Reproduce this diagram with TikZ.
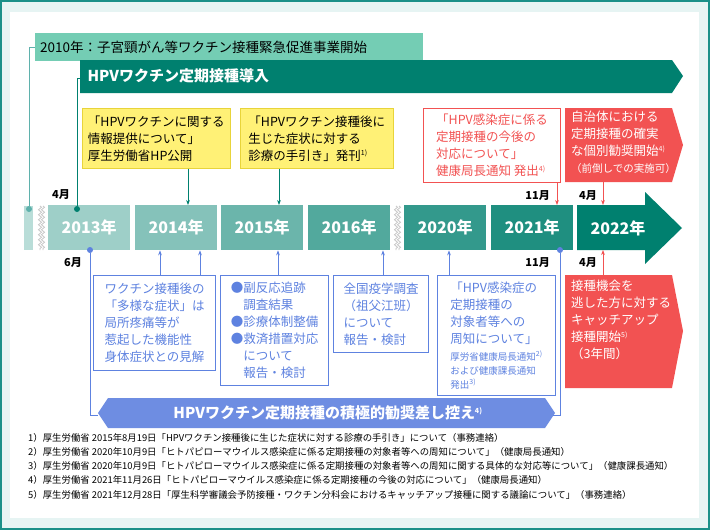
\documentclass[tikz,border=0pt]{standalone}
\usepackage{fontspec}
\setmainfont{Noto Sans CJK JP}
\newcommand{\boldcjk}{\bfseries}
\usepackage{xcolor}
\usetikzlibrary{positioning, arrows.meta, decorations.pathmorphing}
\definecolor{frameteal}{HTML}{1A9088}
\definecolor{bgmint}{HTML}{E6F4F3}
\definecolor{mint}{HTML}{74CDB4}
\definecolor{darkteal}{HTML}{00806F}
\definecolor{hpyellow}{HTML}{FFF176}
\definecolor{ylborder}{HTML}{E8D43A}
\definecolor{hpred}{HTML}{F25252}
\definecolor{hpblue}{HTML}{5E82E0}
\definecolor{bannerblue}{HTML}{6E8DE2}
\definecolor{stripgray}{HTML}{B9DDD8}
\newcommand{\fn}[1]{\textsuperscript{\scriptsize #1}}

\begin{document}
\begin{tikzpicture}[x=1pt, y=-1pt,
	ybox/.style={fill=hpyellow, draw=ylborder, line width=0.6pt, anchor=north west, align=left,
		inner sep=5pt, font=\fontsize{12.5}{17}\selectfont},
	bbox/.style={fill=white, draw=hpblue, line width=1pt, anchor=north west, align=left,
		inner sep=5pt, text=hpblue, font=\fontsize{12.5}{17}\selectfont},
	rbox/.style={fill=white, draw=hpred, line width=1pt, anchor=north west, align=left,
		inner sep=5pt, text=hpred, font=\fontsize{12.5}{17}\selectfont},
	rtext/.style={anchor=north west, align=left, text=white, inner sep=0pt,
		font=\fontsize{12.5}{17}\selectfont},
	yearbox/.style={anchor=north west, minimum width=82pt, minimum height=45pt, inner sep=0pt,
		text=white, font=\boldcjk\fontsize{16}{16}\selectfont},
	tarr/.style={draw=darkteal, line width=0.8pt, -{Stealth[length=5pt]}},
	barr/.style={draw=hpblue, line width=0.8pt, -{Stealth[length=5pt]}},
	rarr/.style={draw=hpred, line width=0.8pt, -{Stealth[length=5pt]}},
	month/.style={font=\boldcjk\fontsize{11}{11}\selectfont, inner sep=0pt},
	dot/.style={circle, inner sep=0pt, minimum size=6pt},
	wave/.style={draw=gray!45, line width=0.8pt, decorate, decoration={zigzag, amplitude=1.5pt, segment length=5pt}}]
\useasboundingbox (0,0) rectangle (710,530);
% frame
\draw[frameteal, fill=bgmint, line width=1.5pt] (1,1) rectangle (709,529);
\fill[white] (10,12) rectangle (699,518);

% 2010 and the regular vaccination banner
\node[fill=mint, anchor=north west, minimum width=388pt, minimum height=28pt, text width=378pt,
	inner sep=5pt, font=\fontsize{13.5}{13.5}\selectfont] (start) at (35,33) {2010年：子宮頸がん等ワクチン接種緊急促進事業開始};
\fill[darkteal] (80,60) -- (672,60) -- (683,76) -- (672,93) -- (80,93) -- cycle;
\node[anchor=west, text=white, font=\boldcjk\fontsize{15}{15}\selectfont] (intro) at (84,76) {HPVワクチン定期接種導入};

% timeline
\fill[stripgray] (24,206) rectangle (33,250);
\draw[wave] (40,206) -- (40,250);
\draw[wave] (43,206) -- (43,250);
\draw[wave] (396,206) -- (396,250);
\draw[wave] (399,206) -- (399,250);
\node[yearbox, fill=darkteal!38] (y2013) at (48,205) {2013年};
\node[yearbox, fill=darkteal!48] (y2014) at (135,205) {2014年};
\node[yearbox, fill=darkteal!58] (y2015) at (221,205) {2015年};
\node[yearbox, fill=darkteal!68] (y2016) at (308,205) {2016年};
\node[yearbox, fill=darkteal!80] (y2020) at (404,205) {2020年};
\node[yearbox, fill=darkteal!88] (y2021) at (491,205) {2021年};
\fill[darkteal] (577,205) -- (645,205) -- (645,192) -- (682,228) -- (645,264) -- (645,250) -- (577,250) -- cycle;
\node[text=white, font=\boldcjk\fontsize{16}{16}\selectfont] (y2022) at (618,228) {2022年};

% links from the top banners
\node[dot, fill=frameteal!70] (d2010) at (29,209) {};
\node[dot, fill=darkteal] (dapr) at (77,209) {};
\draw[frameteal!70, line width=0.8pt] (start.west) -| (d2010);
\draw[darkteal, line width=0.8pt] (80,78) -| (dapr);
\node[month, anchor=south east] (m4a) at (70,200) {4月};

% yellow notes
\node[ybox, minimum width=148pt, minimum height=60pt] (info) at (82,108)
	{「HPVワクチンに関する\\情報提供について」\\厚生労働省HP公開};
\node[ybox, minimum width=153pt, minimum height=60pt] (guide) at (240,108)
	{「HPVワクチン接種後に\\生じた症状に対する\\診療の手引き」発刊\fn{1)}};
\draw[tarr] (info.south -| 188,0) -- (y2014.north -| 188,0);
\draw[tarr] (guide.south -| 279,0) -- (y2015.north -| 279,0);

% red notes above
\node[rbox, minimum width=137pt, minimum height=74pt] (notice) at (423,108)
	{「HPV感染症に係る\\定期接種の今後の\\対応について」\\健康局長通知 発出\fn{4)}};
\fill[hpred] (565,108) -- (672,108) -- (683,145) -- (672,182) -- (565,182) -- cycle;
\node[rtext] (resume) at (571,111)
	{自治体における\\定期接種の確実\\な個別勧奨開始\fn{4)}\\{\fontsize{10.5}{14}\selectfont（前倒しでの実施可）}};
\draw[rarr] (557,182) -- (y2021.north -| 557,0);
\draw[rarr] (603,182) -- (603,205);
\node[month, anchor=south east] (m11a) at (550,201) {11月};
\node[month, anchor=south east] (m4b) at (597,201) {4月};

% lower side
\node[dot, fill=hpblue] (djun) at (90,250) {};
\node[month, anchor=north east] (m6) at (82,257) {6月};
\node[dot, fill=hpblue] (dnov) at (560,250) {};
\node[month, anchor=north east] (m11b) at (550,257) {11月};
\node[month, anchor=north east] (m4c) at (597,257) {4月};

\node[bbox, minimum width=122pt, minimum height=95pt] (view) at (93,275)
	{ワクチン接種後の\\「多様な症状」は\\局所疼痛等が\\惹起した機能性\\身体症状との見解};
\node[bbox, minimum width=108pt, minimum height=110pt] (survey) at (220,275)
	{●副反応追跡\\\hspace{1em}調査結果\\●診療体制整備\\●救済措置対応\\\hspace{1em}について\\\hspace{1em}報告・検討};
\node[bbox, minimum width=95pt, minimum height=77pt] (soba) at (333,275)
	{全国疫学調査\\（祖父江班）\\について\\報告・検討};
\node[bbox, minimum width=118pt, minimum height=120pt] (target) at (437,275)
	{「HPV感染症の\\定期接種の\\対象者等への\\周知について」\\{\fontsize{9.5}{13}\selectfont 厚労省健康局長通知\fn{2)}}\\[-3pt]{\fontsize{9.5}{13}\selectfont および健康課長通知}\\[-3pt]{\fontsize{9.5}{13}\selectfont 発出\fn{3)}}};
\draw[barr] (view.north -| 160,0) -- (y2014.south -| 160,0);
\draw[barr] (view.north -| 200,0) -- (y2014.south -| 200,0);
\draw[barr] (survey.north -| 278,0) -- (y2015.south -| 278,0);
\draw[barr] (soba.north -| 383,0) -- (y2016.south -| 383,0);
\draw[barr] (target.north -| 449,0) -- (y2020.south -| 449,0);

\fill[hpred] (565,275) -- (672,275) -- (683,331) -- (672,388) -- (565,388) -- cycle;
\node[rtext] (catchup) at (571,280)
	{接種機会を\\逃した方に対する\\キャッチアップ\\接種開始\fn{5)}\\（3年間）};
\draw[rarr] (603,275) -- (603,250);

% suspension banner
\fill[bannerblue] (108,398) -- (545,398) -- (555,413) -- (545,428) -- (108,428) -- (98,413) -- cycle;
\node[text=white, font=\boldcjk\fontsize{15}{15}\selectfont] (suspend) at (328,413) {HPVワクチン定期接種の積極的勧奨差し控え\fn{4)}};
\draw[hpblue, line width=0.8pt] (djun) |- (98,415);
\draw[hpblue, line width=0.8pt] (dnov) |- (553,415);

% footnotes
\node[anchor=north west, align=left, inner sep=0pt, font=\fontsize{9.4}{14.2}\selectfont] (notes) at (28,433)
	{1）厚生労働省 2015年8月19日「HPVワクチン接種後に生じた症状に対する診療の手引き」について（事務連絡）\\
	2）厚生労働省 2020年10月9日「ヒトパピローマウイルス感染症に係る定期接種の対象者等への周知について」（健康局長通知）\\
	3）厚生労働省 2020年10月9日「ヒトパピローマウイルス感染症に係る定期接種の対象者等への周知に関する具体的な対応等について」（健康課長通知）\\
	4）厚生労働省 2021年11月26日「ヒトパピローマウイルス感染症に係る定期接種の今後の対応について」（健康局長通知）\\
	5）厚生労働省 2021年12月28日「厚生科学審議会予防接種・ワクチン分科会におけるキャッチアップ接種に関する議論について」（事務連絡）};
\end{tikzpicture}
\end{document}
